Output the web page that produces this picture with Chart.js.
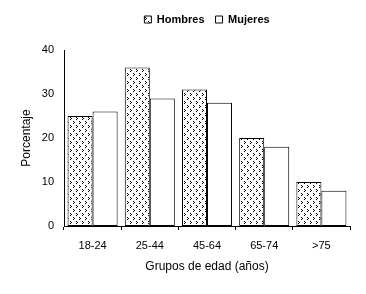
<!DOCTYPE html>
<html>
<head>
<meta charset="utf-8">
<script src="https://cdn.jsdelivr.net/npm/chart.js@4"></script>
<style>
  html, body { margin: 0; padding: 0; background: #fff; }
  #wrap { width: 366px; height: 294px; }
</style>
</head>
<body>
<div id="wrap"><canvas id="chart" width="366" height="294"></canvas></div>
<script>
// Data
const categories = ['18-24', '25-44', '45-64', '65-74', '>75'];
const hombres = [25, 36, 31, 20, 10];
const mujeres = [26, 29, 28, 18, 8];
const yTicks = [0, 10, 20, 30, 40];

// Small dotted fill used for "Hombres"
function makeDots() {
    const c = document.createElement('canvas');
    c.width = 6;
    c.height = 8;
    const g = c.getContext('2d');
    g.fillStyle = '#fff';
    g.fillRect(0, 0, 6, 8);
    g.fillStyle = '#000';
    // two little ">" marks, staggered
    g.fillRect(1, 1, 1, 1);
    g.fillRect(2, 2, 1, 1);
    g.fillRect(1, 3, 1, 1);
    g.fillRect(4, 5, 1, 1);
    g.fillRect(5, 6, 1, 1);
    g.fillRect(4, 7, 1, 1);
    return g.createPattern(c, 'repeat');
}

// Make the legend block tall enough so the plot starts where it does in the reference
const legendHeight = {
    id: 'legendHeight',
    afterInit(chart) {
        const lg = chart.legend;
        if (!lg) return;
        const origFit = lg.fit;
        lg.fit = function() {
            origFit.call(this);
            this.height = 47;
        };
    }
};

const ctx = document.getElementById('chart').getContext('2d');
const dots = makeDots();

new Chart(ctx, {
    type: 'bar',
    data: {
        labels: categories,
        datasets: [{
            label: 'Hombres',
            data: hombres,
            backgroundColor: dots,
            borderColor: '#000',
            borderWidth: 1,
            borderSkipped: false
        }, {
            label: 'Mujeres',
            data: mujeres,
            backgroundColor: '#fff',
            borderColor: '#000',
            borderWidth: 1,
            borderSkipped: false
        }]
    },
    options: {
        responsive: false,
        animation: false,
        layout: { padding: { top: 3, right: 16, bottom: 0, left: 0 } },
        datasets: {
            bar: { barPercentage: 1, categoryPercentage: 0.875 }
        },
        plugins: {
            tooltip: { enabled: false },
            legend: {
                position: 'top',
                fullSize: false,
                labels: {
                    color: '#000',
                    boxWidth: 7,
                    boxHeight: 7,
                    padding: 11,
                    font: { family: 'Arial, "Liberation Sans"', size: 11, weight: 'bold' }
                }
            }
        },
        scales: {
            x: {
                grid: {
                    display: true,
                    drawOnChartArea: false,
                    drawTicks: true,
                    tickLength: 4,
                    color: '#000'
                },
                border: { display: true, color: '#000', width: 1 },
                ticks: {
                    color: '#000',
                    padding: 9,
                    maxRotation: 0,
                    font: { family: 'Arial, "Liberation Sans"', size: 11 }
                },
                title: {
                    display: true,
                    text: 'Grupos de edad (años)',
                    color: '#000',
                    padding: { top: 0, bottom: 20 },
                    font: { family: 'Arial, "Liberation Sans"', size: 12 }
                },
                afterFit: function(scale) { scale.height = 68; }
            },
            y: {
                min: 0,
                max: 40,
                afterBuildTicks: function(scale) {
                    scale.ticks = yTicks.map(v => ({ value: v }));
                },
                grid: { display: false, drawTicks: false },
                border: { display: true, color: '#000', width: 1 },
                ticks: {
                    color: '#000',
                    padding: 10,
                    font: { family: 'Arial, "Liberation Sans"', size: 11 }
                },
                title: {
                    display: true,
                    text: 'Porcentaje',
                    color: '#000',
                    padding: { top: 19, bottom: 0 },
                    font: { family: 'Arial, "Liberation Sans"', size: 12 }
                },
                afterFit: function(scale) { scale.width = 64; }
            }
        }
    },
    plugins: [legendHeight]
});
</script>
</body>
</html>
